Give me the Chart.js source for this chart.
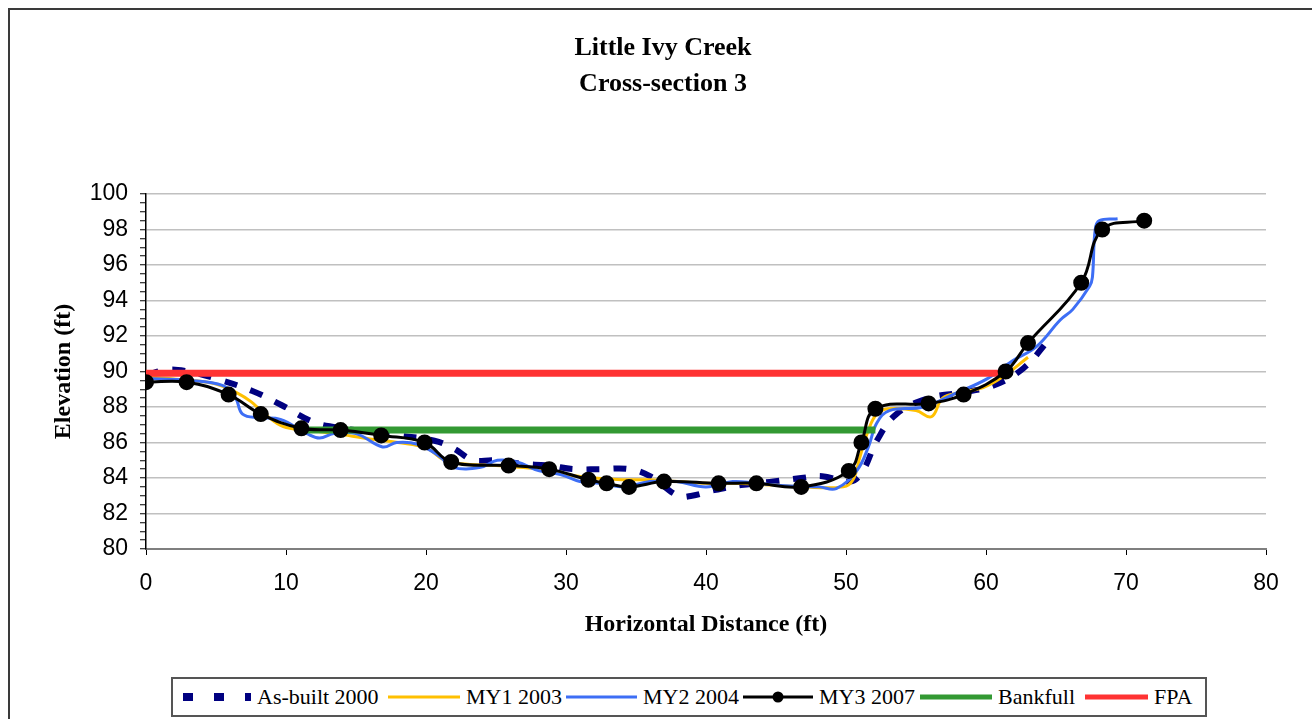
<!DOCTYPE html>
<html>
<head>
<meta charset="utf-8">
<title>Little Ivy Creek Cross-section 3</title>
<script src="https://cdn.jsdelivr.net/npm/chart.js@4.4.1/dist/chart.umd.min.js"></script>
<style>
  body { margin: 0; background: #fff; overflow: hidden; }
  #frame { position: absolute; left: 8px; top: 8px; width: 1330px; height: 740px;
           border: 2px solid #3a3a3a; box-sizing: border-box; }
  #wrap { position: absolute; left: 0; top: 0; width: 1312px; height: 719px; }
  #title { position: absolute; left: 0; top: 29px; width: 1326px; text-align: center;
           font: bold 26px 'Liberation Serif', serif; line-height: 36px; color: #000; }
  #legend { position: absolute; left: 171px; top: 677px; width: 1036px; height: 40px;
            border: 2px solid #555; box-sizing: border-box; background: #fff;
            font: 22px 'Liberation Serif', serif; color: #000; }
  #legend svg, #legend span { position: absolute; }
  #legend span { top: 5px; line-height: 26px; white-space: nowrap; }
  #legend svg { top: 11px; }
</style>
</head>
<body>
<div id="frame"></div>
<div id="wrap"><canvas id="Mychart"></canvas></div>
<div id="title">Little Ivy Creek<br>Cross-section 3</div>
<div id="legend"></div>
<script>
// As-built 2000
var asbuiltX = [0, 1.5, 3, 5, 7.6, 9.7, 11.8, 13.2, 16, 18, 20.6, 21.9, 23.4, 24.8, 26.8, 28.8, 30.5, 32.5, 34.5, 36, 38, 39, 40.5, 42.5, 44.8, 46.8, 48.3, 50.3, 51.2, 52.2, 53.6, 55.9, 58.1, 60.5, 62.7, 64.5];
var asbuiltY = [89.8, 90.1, 90.0, 89.6, 88.9, 88.1, 87.2, 86.9, 86.6, 86.4, 86.1, 85.7, 85.0, 85.0, 84.8, 84.7, 84.5, 84.5, 84.5, 84.1, 83.0, 83.0, 83.3, 83.6, 83.8, 84.0, 84.1, 83.8, 84.4, 86.1, 87.6, 88.5, 88.8, 89.2, 90.2, 91.8];
// MY1 2003
var my1X = [0, 3, 5, 6.5, 7.5, 8.5, 9.8, 11.5, 13.5, 16, 18, 20, 21.3, 22.5, 25, 28, 30, 32, 34, 36, 38, 40, 42, 44.8, 46.8, 49.8, 50.5, 51, 51.6, 52.2, 53, 55, 56.1, 56.9, 58.1, 59.8, 61.2, 63];
var my1Y = [89.7, 89.5, 89.3, 88.8, 88.3, 87.6, 86.9, 86.7, 86.5, 86.2, 86.0, 85.7, 85.0, 84.8, 84.7, 84.5, 84.2, 84.0, 83.9, 83.9, 83.8, 83.7, 83.7, 83.6, 83.5, 83.5, 83.9, 85.2, 86.7, 87.6, 87.9, 87.8, 87.45, 88.5, 88.8, 89.1, 89.7, 90.8];
// MY2 2004
var my2X = [0, 3, 5.5, 6.4, 6.9, 8.1, 9.6, 11.5, 12.4, 13.4, 15, 16.9, 17.9, 19.4, 21, 21.9, 23.9, 25.1, 26.5, 28.1, 29.6, 31, 32.4, 34.1, 36, 37.9, 40, 41.9, 43.6, 46, 48.1, 49.3, 50.8, 51.6, 52.2, 53.1, 55.5, 57.9, 60.1, 61.9, 63.6, 65.3, 66.2, 67.4, 67.6, 67.8, 68.1, 69.4];
var my2Y = [89.6, 89.5, 89.2, 88.5, 87.6, 87.4, 87.3, 86.5, 86.25, 86.5, 86.5, 85.75, 86.0, 85.9, 85.2, 84.6, 84.6, 85.0, 84.9, 84.4, 84.2, 83.8, 83.7, 83.5, 83.8, 83.8, 83.5, 83.8, 83.7, 83.55, 83.5, 83.4, 84.45, 85.75, 87.1, 87.8, 88.0, 88.8, 89.6, 90.6, 91.4, 92.9, 93.5, 94.8, 95.3, 98.0, 98.5, 98.6];
// MY3 2007
var my3X = [0, 2.9, 5.9, 8.2, 11.1, 13.9, 16.8, 19.9, 21.8, 25.9, 28.8, 31.6, 32.9, 34.5, 37.0, 40.9, 43.6, 46.8, 50.2, 51.1, 52.1, 55.9, 58.4, 61.4, 63.0, 66.8, 68.3, 71.3];
var my3Y = [89.4, 89.4, 88.7, 87.6, 86.8, 86.7, 86.4, 86.0, 84.9, 84.7, 84.5, 83.9, 83.7, 83.5, 83.8, 83.7, 83.7, 83.5, 84.4, 86.0, 87.9, 88.2, 88.7, 90.0, 91.6, 95.0, 98.0, 98.5];
// Bankfull and FPA
var bankfullX = [11.4, 52.1];
var bankfullY = [86.7, 86.7];
var fpaX = [0, 61.0];
var fpaY = [89.9, 89.9];

var xTicks = [0, 10, 20, 30, 40, 50, 60, 70, 80];
var yTicks = [80, 82, 84, 86, 88, 90, 92, 94, 96, 98, 100];

function pts(xs, ys){
    return xs.map(function(x, i){ return {x: x, y: ys[i]}; });
}

var series = [
    {label: 'As-built 2000', data: pts(asbuiltX, asbuiltY), borderColor: '#000080', borderWidth: 6, borderDash: [13, 14], tension: 0.4, order: 5},
    {label: 'MY1 2003', data: pts(my1X, my1Y), borderColor: '#FFC000', borderWidth: 3, tension: 0.4, order: 4},
    {label: 'MY2 2004', data: pts(my2X, my2Y), borderColor: '#3D6EF5', borderWidth: 3, tension: 0.4, order: 3},
    {label: 'MY3 2007', data: pts(my3X, my3Y), borderColor: '#000000', borderWidth: 3, tension: 0.4, order: 0,
     pointRadius: 6.5, pointBackgroundColor: '#000', pointBorderColor: '#000'},
    {label: 'Bankfull', data: pts(bankfullX, bankfullY), borderColor: '#339933', borderWidth: 7, tension: 0, order: 2},
    {label: 'FPA', data: pts(fpaX, fpaY), borderColor: '#FF3333', borderWidth: 7, tension: 0, order: 1}
];
series.forEach(function(s){
    s.showLine = true;
    s.fill = false;
    if (s.pointRadius === undefined) s.pointRadius = 0;
    s.borderCapStyle = 'butt';
});

const ctx = document.getElementById('Mychart');
var chart = new Chart(ctx, {
    type: 'scatter',
    data: { datasets: series },
    options: {
        responsive: true,
        maintainAspectRatio: false,
        animation: false,
        events: [],
        layout: { padding: { top: 194, right: 46, left: 0, bottom: 0 } },
        plugins: { legend: { display: false }, tooltip: { enabled: false }, title: { display: false } },
        scales: {
            x: {
                type: 'linear', min: 0, max: 80,
                afterFit: function(scale){ scale.height = 170; },
                afterBuildTicks: function(scale){ scale.ticks = xTicks.map(function(v){ return {value: v}; }); },
                grid: { drawOnChartArea: false, tickLength: 6, tickColor: '#000', tickWidth: 1 },
                border: { color: '#7f7f7f', width: 2 },
                ticks: { color: '#000', padding: 15, font: { family: 'Liberation Sans', size: 23 }, maxRotation: 0 },
                title: { display: true, text: 'Horizontal Distance (ft)', color: '#000',
                         font: { family: 'Liberation Serif', size: 24, weight: 'bold' }, padding: { bottom: 80 } }
            },
            y: {
                type: 'linear', min: 80, max: 100,
                afterFit: function(scale){ scale.width = 146; },
                afterBuildTicks: function(scale){
                    var t = [];
                    for (var v = 80; v <= 100; v += 0.5) t.push({value: v});
                    scale.ticks = t;
                },
                grid: {
                    color: function(c){ return (c.tick && c.tick.value % 2 === 0 && c.tick.value !== 80) ? '#c0c0c0' : 'rgba(0,0,0,0)'; },
                    lineWidth: 1.5, tickLength: 6, tickColor: '#000', tickWidth: 1
                },
                border: { color: '#000', width: 1.5 },
                ticks: {
                    color: '#000', padding: 12, autoSkip: false,
                    font: { family: 'Liberation Sans', size: 23 },
                    callback: function(v){ return yTicks.indexOf(v) >= 0 ? String(v) : ''; }
                },
                title: { display: true, text: 'Elevation (ft)', color: '#000',
                         font: { family: 'Liberation Serif', size: 24, weight: 'bold' }, padding: { top: 49 } }
            }
        }
    }
});

var legendPos = [
    {sample: 8, text: 84},
    {sample: 215, text: 293},
    {sample: 393, text: 470},
    {sample: 570, text: 646},
    {sample: 747, text: 825},
    {sample: 912, text: 981}
];
function sample(ds, w){
    var s = '<svg width="' + w + '" height="14">';
    if (ds.borderDash) {
        s += '<line x1="2" y1="7" x2="' + w + '" y2="7" stroke="' + ds.borderColor + '" stroke-width="8" stroke-dasharray="10 21"/>';
    } else {
        s += '<line x1="0" y1="7" x2="' + w + '" y2="7" stroke="' + ds.borderColor + '" stroke-width="' + Math.min(ds.borderWidth, 5) + '"/>';
        if (ds.pointRadius) s += '<circle cx="' + w/2 + '" cy="7" r="5.5" fill="#000"/>';
    }
    return s + '</svg>';
}
var lg = document.getElementById('legend');
lg.innerHTML = series.map(function(ds, i){
    var p = legendPos[i];
    var w = p.text - p.sample - 6;
    return '<div style="position:absolute;left:' + p.sample + 'px;top:0">' + sample(ds, w) + '</div>' +
           '<span style="left:' + p.text + 'px">' + ds.label + '</span>';
}).join('');
</script>
</body>
</html>
